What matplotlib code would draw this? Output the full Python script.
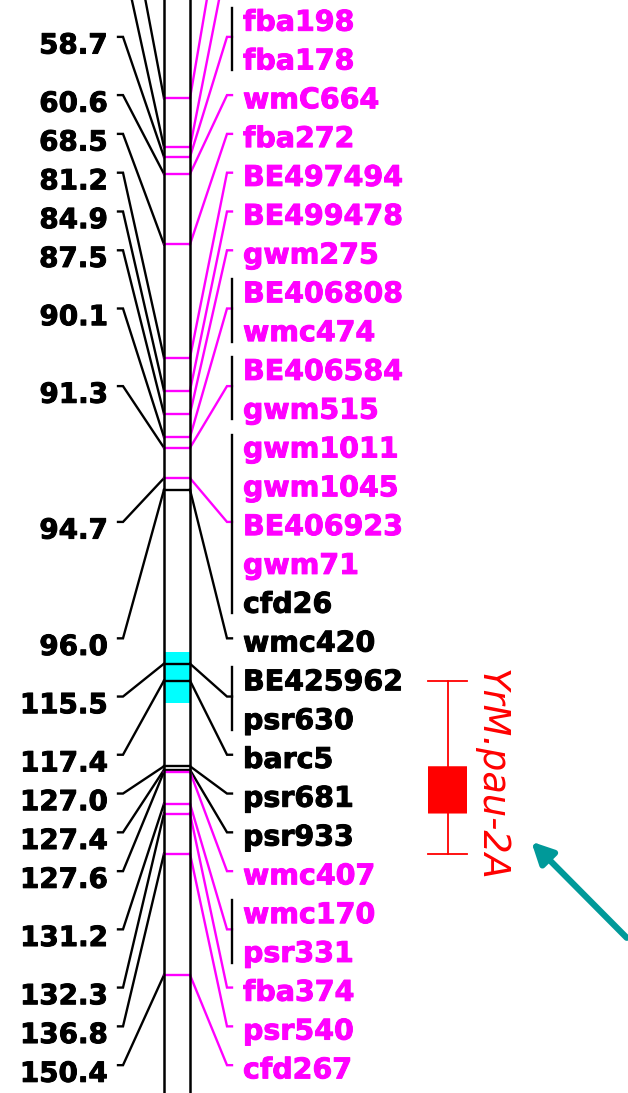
import matplotlib
matplotlib.use("Agg")
import matplotlib.pyplot as plt
from matplotlib.patches import Rectangle, FancyBboxPatch
import matplotlib.patheffects as pe

# locus positions (cM), top to bottom; the first two lie above the cropped view
positions = [52.1, 57.6, 58.7, 60.6, 68.5, 81.2, 84.9, 87.5, 90.1, 91.3,
             94.7, 96.0, 115.5, 117.4, 127.0, 127.4, 127.6, 131.2, 132.3,
             136.8, 150.4]
# markers mapped at each locus (None = name outside the crop)
markers = [[None, None], [None, None], ["fba198", "fba178"], ["wmC664"], ["fba272"],
           ["BE497494"], ["BE499478"], ["gwm275"], ["BE406808", "wmc474"],
           ["BE406584", "gwm515"],
           ["gwm1011", "gwm1045", "BE406923", "gwm71", "cfd26"],
           ["wmc420"], ["BE425962", "psr630"], ["barc5"], ["psr681"], ["psr933"],
           ["wmc407"], ["wmc170", "psr331"], ["fba374"], ["psr540"], ["cfd267"]]
black_markers = ["cfd26", "wmc420", "BE425962", "psr630", "barc5", "psr681", "psr933"]

highlight = (114.2, 119.9)     # cyan block on the chromosome
qtl_name = "YrM.pau-2A"
qtl_interval = (117.4, 136.8)
qtl_peak = (127.0, 132.3)

MAGENTA = "#FF00FF"
RED = "#FF0000"
TEAL = "#009999"

# layout (x in pixels, y in cM)
chrom_l, chrom_r = 164, 190
label_step = 4.35
first_label = 25.66
LW = 1.7


def heavy(c):
    # DejaVu bold is lighter than the original font, thicken it a little
    return [pe.withStroke(linewidth=0.7, foreground=c)]


fig = plt.figure(figsize=(6.28, 10.93), dpi=100)
ax = fig.add_axes([0, 0, 1, 1])
ax.set_xlim(0, 628)
ax.set_ylim(163.63, 41.10)
ax.set_axis_off()

# chromosome
ax.add_patch(Rectangle((chrom_l, highlight[0]), chrom_r - chrom_l,
                       highlight[1] - highlight[0], color="#00FFFF", lw=0, zorder=1))
ax.axvline(chrom_l, color="black", lw=1.8, zorder=4)
ax.axvline(chrom_r, color="black", lw=1.8, zorder=4)

k = 0
for pos, names in zip(positions, markers):
    ys = [first_label + label_step * (k + j) for j in range(len(names))]
    k += len(names)
    ty = sum(ys) / len(ys)
    col = "black" if all(n in black_markers for n in names) else MAGENTA

    ax.plot([chrom_l, chrom_r], [pos, pos], color=col, lw=LW, zorder=3)
    # left side: position value
    ax.plot([118, 123, chrom_l], [ty, ty, pos], color="black", lw=LW,
            solid_joinstyle="miter", zorder=2)
    ax.annotate(f"{pos:.1f}", xy=(108, ty), xytext=(0, -12),
                textcoords="offset points", ha="right", va="baseline",
                fontsize=20, fontweight="bold", color="black",
                path_effects=heavy("black"))
    # right side: marker names
    ax.plot([chrom_r, 227, 232], [pos, ty, ty], color=col, lw=LW,
            solid_joinstyle="miter", zorder=2)
    if len(names) > 1:
        ax.plot([232, 232], [ys[0] - 1.1, ys[-1] + 1.55], color="black", lw=LW)
    for n, y in zip(names, ys):
        if n is None:
            continue
        c = "black" if n in black_markers else MAGENTA
        ax.annotate(n, xy=(243, y), xytext=(0, -9.5), textcoords="offset points",
                    ha="left", va="baseline", fontsize=20.5, fontweight="bold",
                    color=c, path_effects=heavy(c))

# QTL interval
qx, qw = 447.5, 39
ax.plot([qx, qx], qtl_interval, color=RED, lw=1.3)
for y in qtl_interval:
    ax.plot([qx - qw / 2, qx + qw / 2], [y, y], color=RED, lw=1.3)
ax.add_patch(FancyBboxPatch((qx - qw / 2, qtl_peak[0]), qw, qtl_peak[1] - qtl_peak[0],
                            boxstyle="round,pad=0,rounding_size=0.3",
                            mutation_aspect=1 / 8.9, color=RED, lw=0))
ax.text(491, 128.0, qtl_name, rotation=-90, ha="center", va="center",
        fontsize=26.5, style="italic", color=RED)

ax.annotate("", xy=(0.846, 0.230), xytext=(0.998, 0.142),
            xycoords="axes fraction", textcoords="axes fraction",
            arrowprops=dict(arrowstyle="-|>", color=TEAL, lw=4.5,
                            mutation_scale=32, shrinkA=0, shrinkB=0))

fig.savefig("out.png", dpi=100)
